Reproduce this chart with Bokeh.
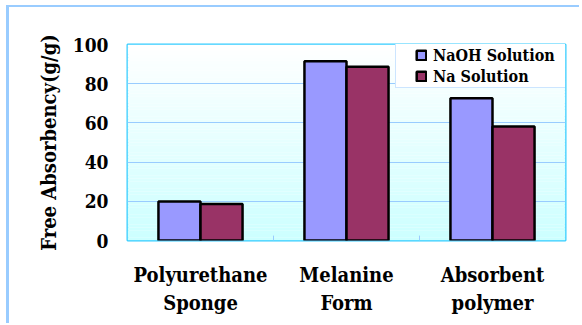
import numpy as np
from bokeh.plotting import figure
from bokeh.models import Legend, LegendItem, FactorRange, Range1d, FixedTicker, ColumnDataSource
from bokeh.transform import dodge
from bokeh.embed import file_html
from bokeh.resources import INLINE

categories = ["Polyurethane\nSponge", "Melanine\nForm", "Absorbent\npolymer"]
naoh = [19.9, 91.5, 72.6]
na = [18.6, 88.6, 58.2]
series_names = ["NaOH Solution", "Na Solution"]
y_ticks = [0, 20, 40, 60, 80, 100]

FONT = "DejaVu Serif Condensed"

p = figure(
    width=573, height=318,
    x_range=FactorRange(*categories, range_padding=0, factor_padding=0),
    y_range=Range1d(0, 100),
    output_backend="svg", toolbar_location=None,
    min_border_left=118, min_border_right=17, min_border_top=37, min_border_bottom=85,
)
p.styles = {"margin-left": "6px", "margin-top": "5px",
            "border-left": "3px solid #99ccff", "border-top": "2px solid #99ccff"}
p.background_fill_color = None
p.border_fill_color = "white"
p.outline_line_color = "#33ccff"
p.outline_line_width = 2

n = 60
edges = np.linspace(0, 100, n + 1)
top_c = np.array([255, 255, 255])
bot_c = np.array([204, 255, 255])
cols = []
for i in range(n):
    t = (edges[i] + edges[i + 1]) / 2 / 100
    c = bot_c + (top_c - bot_c) * t
    cols.append("#%02x%02x%02x" % tuple(int(round(v)) for v in c))
g = p.quad(left=0, right=len(categories), bottom=edges[:-1], top=edges[1:],
           fill_color=cols, line_color=None)
g.level = "image"

p.ygrid.ticker = FixedTicker(ticks=y_ticks)
p.ygrid.grid_line_color = "#99ccff"
p.ygrid.grid_line_width = 1
p.xgrid.grid_line_color = None

src = ColumnDataSource(dict(cat=categories, naoh=naoh, na=na))
r1 = p.vbar(x=dodge("cat", -0.144, range=p.x_range), top="naoh", width=0.288, source=src,
            fill_color="#9999ff", line_color="black", line_width=2.5)
r2 = p.vbar(x=dodge("cat", 0.144, range=p.x_range), top="na", width=0.288, source=src,
            fill_color="#993366", line_color="black", line_width=2.5)

bounds = list(range(1, len(categories)))
p.segment(x0=bounds, x1=bounds, y0=[0] * len(bounds), y1=[2.5] * len(bounds),
          line_color="#99ccff", line_width=1)

p.yaxis.ticker = FixedTicker(ticks=y_ticks)
p.yaxis.axis_label = "Free Absorbency(g/g)"
for ax, sz in ((p.xaxis[0], "20px"), (p.yaxis[0], "19px")):
    ax.axis_line_color = None
    ax.major_tick_line_color = None
    ax.minor_tick_line_color = None
    ax.major_label_text_font = FONT
    ax.major_label_text_font_style = "bold"
    ax.major_label_text_font_size = sz
    ax.major_label_text_color = "black"
p.yaxis.major_label_standoff = 13
p.yaxis.axis_label_text_font = FONT
p.yaxis.axis_label_text_font_style = "bold"
p.yaxis.axis_label_text_font_size = "20px"
p.yaxis.axis_label_text_color = "black"
p.yaxis.axis_label_standoff = 9
p.xaxis.major_label_standoff = 16

legend = Legend(items=[LegendItem(label=series_names[0], renderers=[r1]),
                       LegendItem(label=series_names[1], renderers=[r2])],
                location=(268, 152))
legend.title = " "
legend.title_location = "left"
legend.title_text_font_size = "1px"
legend.title_standoff = 17
legend.padding = 1
legend.spacing = 1
legend.margin = 0
legend.label_height = 20
legend.glyph_height = 12
legend.glyph_width = 12
legend.label_standoff = 6
legend.label_width = 132
legend.label_text_font = FONT
legend.label_text_font_style = "bold"
legend.label_text_font_size = "16px"
legend.label_text_color = "black"
legend.border_line_color = "#99ccff"
legend.border_line_width = 1
legend.background_fill_color = "white"
legend.background_fill_alpha = 1
p.add_layout(legend)

open("out.html", "w").write(file_html(p, INLINE))
